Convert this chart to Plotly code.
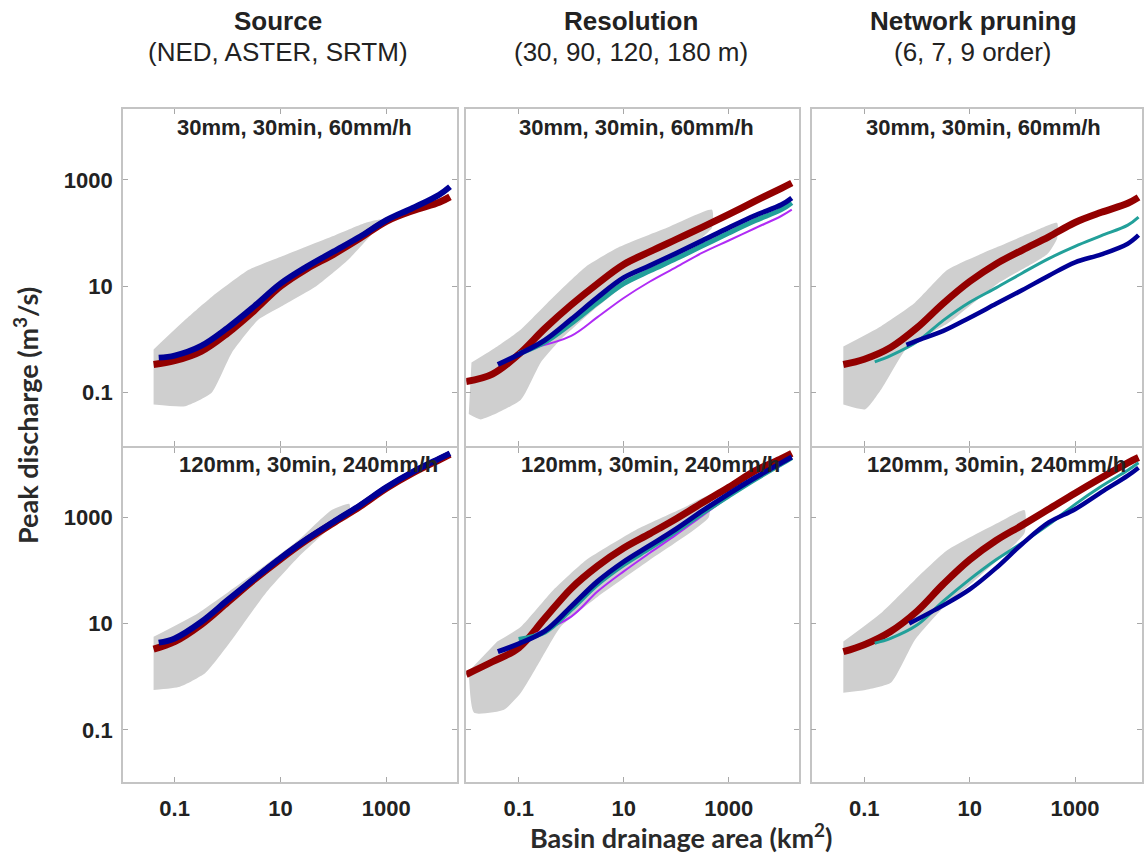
import plotly.graph_objects as go

# ---------------- data ----------------
# x: basin drainage area (km2), y: peak discharge (m3/s)
TICK_VALS = [0.1, 10, 1000]
TICK_TEXT = ["0.1", "10", "1000"]

COL_TITLES = ["Source", "Resolution", "Network pruning"]
COL_SUBTITLES = ["(NED, ASTER, SRTM)", "(30, 90, 120, 180 m)", "(6, 7, 9 order)"]
ROW_LABELS = ["30mm, 30min, 60mm/h", "120mm, 30min, 240mm/h"]

# --- Source, 30mm ---
SRC_TOP_RED_X = [0.04, 0.1, 0.316, 1, 3.16, 10, 31.6, 100, 316, 1000, 3160, 10000, 16000]
SRC_TOP_RED_Y = [0.34, 0.40, 0.60, 1.32, 3.47, 10.0, 21.4, 39.8, 79.4, 166, 263, 380, 479]
SRC_TOP_BLUE_X = [0.05, 0.1, 0.316, 1, 3.16, 10, 31.6, 100, 316, 1000, 3160, 10000, 16000]
SRC_TOP_BLUE_Y = [0.457, 0.50, 0.76, 1.66, 4.17, 11.2, 23.4, 44.7, 85.1, 174, 295, 525, 741]
SRC_TOP_CLOUD_X = [0.04, 0.158, 0.5, 2.51, 10.5, 91, 398, 794,
                   794, 191, 45.7, 10.5, 3.8, 1.2, 0.5, 0.158, 0.04]
SRC_TOP_CLOUD_Y = [0.65, 2.34, 6.3, 20.4, 36.3, 85, 155, 178,
                   155, 31.6, 9.8, 4.2, 2.34, 0.56, 0.1, 0.056, 0.06]

# --- Resolution, 30mm ---
RES_TOP_RED_X = [0.01, 0.0316, 0.1, 0.316, 1, 3.16, 10, 31.6, 100, 316, 1000, 3160, 10000, 15850]
RES_TOP_RED_Y = [0.162, 0.224, 0.525, 1.62, 4.47, 11.2, 25.7, 44.7, 75.9, 129, 224, 398, 692, 871]
RES_TOP_BLUE_X = [0.04, 0.1, 0.316, 1, 3.16, 10, 31.6, 100, 316, 1000, 3160, 10000, 15850]
RES_TOP_BLUE_Y = [0.339, 0.525, 0.977, 2.4, 6.17, 14.5, 24.5, 41.7, 72.4, 126, 214, 339, 457]
RES_TOP_TEAL_X = [0.1, 0.316, 1, 3.16, 10, 31.6, 100, 316, 1000, 3160, 10000, 15850]
RES_TOP_TEAL_Y = [0.537, 0.891, 2.0, 4.9, 11.2, 19.5, 33.1, 57.5, 100, 170, 275, 372]
RES_TOP_MAG_X = [0.2, 1, 3.16, 10, 31.6, 100, 316, 1000, 3160, 10000, 15850]
RES_TOP_MAG_Y = [0.708, 1.17, 2.63, 6.03, 12.3, 22.9, 42.7, 72.4, 123, 209, 275]
RES_TOP_CLOUD_X = [0.0126, 0.039, 0.11, 0.457, 1.9, 8.3, 74, 479,
                   479, 74, 10, 2.63, 0.63, 0.263, 0.11, 0.019, 0.0112]
RES_TOP_CLOUD_Y = [0.37, 0.74, 1.55, 6.3, 23.4, 55, 132, 275,
                   126, 28.2, 10, 3.55, 1.0, 0.37, 0.074, 0.0316, 0.04]

# --- Network pruning, 30mm ---
NET_TOP_RED_X = [0.04, 0.1, 0.316, 1, 3.16, 10, 31.6, 100, 316, 1000, 3160, 10000, 16000]
NET_TOP_RED_Y = [0.339, 0.427, 0.708, 1.66, 4.79, 12.3, 26.3, 47.9, 85.1, 158, 245, 363, 468]
NET_TOP_TEAL_X = [0.158, 0.316, 1, 3.16, 10, 31.6, 100, 316, 1000, 3160, 10000, 16000]
NET_TOP_TEAL_Y = [0.38, 0.5, 0.912, 2.29, 5.01, 9.33, 17.8, 33.1, 56.2, 89.1, 141, 200]
NET_TOP_BLUE_X = [0.63, 1, 3.16, 10, 31.6, 100, 316, 1000, 3160, 10000, 16000]
NET_TOP_BLUE_Y = [0.794, 0.955, 1.45, 2.57, 4.68, 8.51, 15.8, 28.2, 39.8, 63.1, 91.2]
NET_TOP_CLOUD_X = [0.04, 0.209, 0.912, 3.8, 33.9, 141, 457,
                   457, 295, 33.9, 3.8, 0.676, 0.209, 0.105, 0.04]
NET_TOP_CLOUD_Y = [0.741, 1.78, 4.9, 20.4, 55, 100, 155,
                   79.4, 39.8, 11.2, 2.0, 0.741, 0.115, 0.049, 0.06]

# --- Source, 120mm ---
SRC_BOT_RED_X = [0.04, 0.1, 0.316, 1, 3.16, 10, 31.6, 100, 316, 1000, 3160, 10000, 16000]
SRC_BOT_RED_Y = [3.31, 4.57, 9.55, 25.1, 66.1, 162, 372, 776, 1580, 3470, 6760, 12000, 15100]
SRC_BOT_BLUE_X = [0.05, 0.1, 0.316, 1, 3.16, 10, 31.6, 100, 316, 1000, 3160, 10000, 16000]
SRC_BOT_BLUE_Y = [4.37, 5.25, 10.7, 27.5, 69.2, 170, 389, 813, 1660, 3630, 7080, 12600, 15850]
SRC_BOT_CLOUD_X = [0.04, 0.282, 2.51, 21.9, 91.2, 200,
                   200, 91.2, 21.9, 5.25, 1.2, 0.38, 0.126, 0.04]
SRC_BOT_CLOUD_Y = [5.62, 15.8, 74.1, 372, 1350, 1780,
                   1000, 646, 178, 37.2, 4.9, 1.17, 0.646, 0.562]

# --- Resolution, 120mm ---
RES_BOT_RED_X = [0.01, 0.0316, 0.1, 0.316, 1, 3.16, 10, 31.6, 100, 316, 1000, 3160, 10000, 15850]
RES_BOT_RED_Y = [1.1, 1.91, 3.47, 12.6, 45.7, 120, 263, 490, 933, 1860, 3630, 7410, 12600, 15850]
RES_BOT_BLUE_X = [0.04, 0.1, 0.316, 1, 3.16, 10, 31.6, 100, 316, 1000, 3160, 10000, 15850]
RES_BOT_BLUE_Y = [2.95, 4.17, 7.24, 20.9, 61.7, 145, 295, 603, 1320, 2750, 5500, 10500, 13500]
RES_BOT_TEAL_X = [0.1, 0.316, 1, 3.16, 10, 31.6, 100, 316, 1000, 3160, 10000, 15850]
RES_BOT_TEAL_Y = [5.01, 6.92, 18.6, 55, 129, 263, 550, 1200, 2510, 5130, 10000, 13200]
RES_BOT_MAG_X = [0.2, 1, 3.16, 10, 31.6, 100, 316, 1000, 3160, 10000, 15850]
RES_BOT_MAG_Y = [6.31, 13.5, 39.8, 95.5, 214, 468, 1070, 2400, 5010, 9550, 12600]
RES_BOT_CLOUD_X = [0.039, 0.11, 0.457, 1.9, 17, 148, 417,
                   417, 31.6, 3.16, 0.63, 0.263, 0.11, 0.0525, 0.0141, 0.0112]
RES_BOT_CLOUD_Y = [4.57, 8.71, 42.7, 155, 575, 1550, 2510,
                   1000, 158, 31.6, 8.71, 2.09, 0.5, 0.24, 0.209, 1.26]

# --- Network pruning, 120mm ---
NET_BOT_RED_X = [0.04, 0.1, 0.316, 1, 3.16, 10, 31.6, 100, 316, 1000, 3160, 10000, 16000]
NET_BOT_RED_Y = [2.95, 3.98, 7.08, 17, 55, 158, 363, 708, 1410, 2820, 5500, 10500, 13200]
NET_BOT_TEAL_X = [0.158, 0.316, 1, 3.16, 10, 31.6, 100, 316, 1000, 3160, 10000, 16000]
NET_BOT_TEAL_Y = [4.27, 5.25, 9.33, 26.3, 67.6, 158, 331, 724, 1740, 3800, 7590, 10500]
NET_BOT_BLUE_X = [0.71, 3.16, 10, 31.6, 100, 316, 1000, 3160, 10000, 16000]
NET_BOT_BLUE_Y = [10, 21.9, 43.7, 110, 316, 794, 1410, 2950, 6030, 8510]
NET_BOT_CLOUD_X = [0.04, 0.209, 0.912, 3.8, 33.9, 110,
                   110, 15.8, 3.16, 0.912, 0.324, 0.105, 0.04]
NET_BOT_CLOUD_Y = [4.57, 15.8, 66.1, 240, 776, 1350,
                   501, 79.4, 20, 4.9, 0.776, 0.562, 0.5]

# ---------------- styling ----------------
W, H = 1144, 857
RED, BLUE, TEAL, MAG = "#930000", "#000096", "#22a09a", "#b02cf5"
CLOUD = "#cfcfcf"
FRAME = "#c4c4c4"
TXT = "#222222"

# pixel boxes of each panel column / row
COL_PX = [(123, 458), (467, 800), (813, 1144)]
ROW_PX = [(109, 446), (448, 782)]
X_RANGES = [[-1.98, 4.34], [-2.0, 4.33], [-2.0, 4.27]]
Y_RANGES = [[-2.0, 4.33], [-1.98, 4.30]]

panels = {
    (0, 0): dict(cloud=(SRC_TOP_CLOUD_X, SRC_TOP_CLOUD_Y),
                 lines=[(SRC_TOP_RED_X, SRC_TOP_RED_Y, RED, 7),
                        (SRC_TOP_BLUE_X, SRC_TOP_BLUE_Y, BLUE, 6)]),
    (0, 1): dict(cloud=(RES_TOP_CLOUD_X, RES_TOP_CLOUD_Y),
                 lines=[(RES_TOP_RED_X, RES_TOP_RED_Y, RED, 7),
                        (RES_TOP_MAG_X, RES_TOP_MAG_Y, MAG, 2),
                        (RES_TOP_TEAL_X, RES_TOP_TEAL_Y, TEAL, 5),
                        (RES_TOP_BLUE_X, RES_TOP_BLUE_Y, BLUE, 5)]),
    (0, 2): dict(cloud=(NET_TOP_CLOUD_X, NET_TOP_CLOUD_Y),
                 lines=[(NET_TOP_RED_X, NET_TOP_RED_Y, RED, 7),
                        (NET_TOP_TEAL_X, NET_TOP_TEAL_Y, TEAL, 3),
                        (NET_TOP_BLUE_X, NET_TOP_BLUE_Y, BLUE, 4.5)]),
    (1, 0): dict(cloud=(SRC_BOT_CLOUD_X, SRC_BOT_CLOUD_Y),
                 lines=[(SRC_BOT_RED_X, SRC_BOT_RED_Y, RED, 7),
                        (SRC_BOT_BLUE_X, SRC_BOT_BLUE_Y, BLUE, 6)]),
    (1, 1): dict(cloud=(RES_BOT_CLOUD_X, RES_BOT_CLOUD_Y),
                 lines=[(RES_BOT_RED_X, RES_BOT_RED_Y, RED, 7),
                        (RES_BOT_MAG_X, RES_BOT_MAG_Y, MAG, 2),
                        (RES_BOT_TEAL_X, RES_BOT_TEAL_Y, TEAL, 5),
                        (RES_BOT_BLUE_X, RES_BOT_BLUE_Y, BLUE, 5)]),
    (1, 2): dict(cloud=(NET_BOT_CLOUD_X, NET_BOT_CLOUD_Y),
                 lines=[(NET_BOT_RED_X, NET_BOT_RED_Y, RED, 7),
                        (NET_BOT_TEAL_X, NET_BOT_TEAL_Y, TEAL, 3),
                        (NET_BOT_BLUE_X, NET_BOT_BLUE_Y, BLUE, 4.5)]),
}

fig = go.Figure()
layout = dict(
    width=W, height=H, margin=dict(l=0, r=0, t=0, b=0),
    paper_bgcolor="white", plot_bgcolor="white", showlegend=False,
)

tick_font = dict(family="Liberation Sans, Arial, sans-serif", size=22, color=TXT, weight="bold")

for (r, c), p in panels.items():
    idx = r * 3 + c + 1
    xa = f"x{idx}" if idx > 1 else "x"
    ya = f"y{idx}" if idx > 1 else "y"
    cx, cy = p["cloud"]
    fig.add_trace(go.Scatter(x=cx, y=cy, xaxis=xa, yaxis=ya, mode="lines",
                             fill="toself", fillcolor=CLOUD,
                             line=dict(width=0, color=CLOUD, shape="spline", smoothing=0.5),
                             hoverinfo="skip"))
    for lx, ly, col, wd in p["lines"]:
        fig.add_trace(go.Scatter(x=lx, y=ly, xaxis=xa, yaxis=ya, mode="lines",
                                 line=dict(color=col, width=wd, shape="spline", smoothing=1.0)))
    x0, x1 = COL_PX[c]
    y0, y1 = ROW_PX[r]
    common = dict(type="log", showgrid=False, zeroline=False, showline=True,
                  linecolor=FRAME, linewidth=1.5, mirror="ticks", ticks="inside",
                  ticklen=5, tickwidth=1, tickcolor="#a8a8a8",
                  tickvals=TICK_VALS, ticktext=TICK_TEXT, tickfont=tick_font)
    layout["xaxis" + (str(idx) if idx > 1 else "")] = dict(
        common, domain=[x0 / W, x1 / W], range=X_RANGES[c], anchor=ya,
        showticklabels=(r == 1), ticklabelstandoff=6)
    layout["yaxis" + (str(idx) if idx > 1 else "")] = dict(
        common, domain=[1 - y1 / H, 1 - y0 / H], range=Y_RANGES[r], anchor=xa,
        showticklabels=(c == 0), ticklabelstandoff=4)

fig.update_layout(**layout)

# panel labels
ann_font = dict(family="Liberation Sans, Arial, sans-serif", size=22, color=TXT)
top_lbl_x = [295, 638, 985]
bot_lbl_x = [309, 652, 998]
for c in range(3):
    fig.add_annotation(text="<b>" + ROW_LABELS[0] + "</b>", x=top_lbl_x[c] / W, y=1 - 127 / H,
                       xref="paper", yref="paper", showarrow=False, font=ann_font,
                       xanchor="center", yanchor="middle")
    fig.add_annotation(text="<b>" + ROW_LABELS[1] + "</b>", x=bot_lbl_x[c] / W, y=1 - 464 / H,
                       xref="paper", yref="paper", showarrow=False, font=ann_font,
                       xanchor="center", yanchor="middle")

# column titles
title_x = [278, 632, 975]
for c in range(3):
    fig.add_annotation(text="<b>" + COL_TITLES[c] + "</b>", x=title_x[c] / W, y=1 - 21 / H,
                       xref="paper", yref="paper", showarrow=False,
                       font=dict(family="Liberation Sans, Arial, sans-serif", size=26, color=TXT),
                       xanchor="center", yanchor="middle")
    fig.add_annotation(text=COL_SUBTITLES[c], x=title_x[c] / W, y=1 - 52 / H,
                       xref="paper", yref="paper", showarrow=False,
                       font=dict(family="Liberation Sans, Arial, sans-serif", size=26, color=TXT),
                       xanchor="center", yanchor="middle")

# axis titles
axis_font = dict(family="Lato, Open Sans, sans-serif", size=27, color="#2a2a2a")
fig.add_annotation(text="<b>Basin drainage area (km<sup>2</sup>)</b>", x=682 / W, y=1 - 836 / H,
                   xref="paper", yref="paper", showarrow=False, font=axis_font,
                   xanchor="center", yanchor="middle")
fig.add_annotation(text="<b>Peak discharge (m<sup>3</sup>/s)</b>", x=26 / W, y=1 - 415 / H,
                   xref="paper", yref="paper", showarrow=False, font=axis_font,
                   textangle=-90, xanchor="center", yanchor="middle")

fig.write_html("out.html",
               config={"displayModeBar": False},
               post_script="document.body.style.margin='0';document.body.style.overflow='hidden';")
